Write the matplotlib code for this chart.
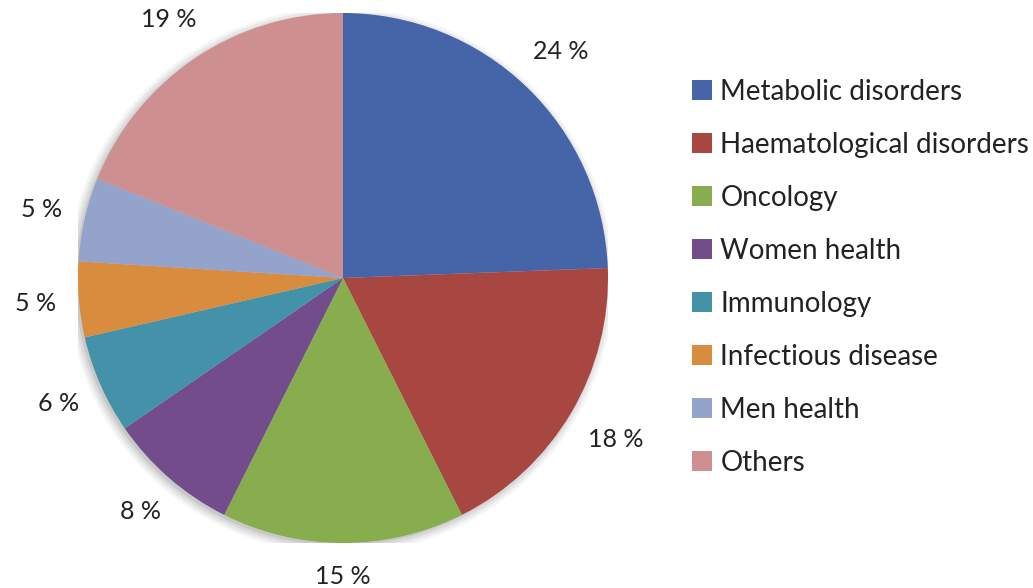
import numpy as np
import matplotlib.pyplot as plt
from matplotlib.patches import Circle

categories = ['Metabolic disorders', 'Haematological disorders', 'Oncology',
              'Women health', 'Immunology', 'Infectious disease',
              'Men health', 'Others']
shares = [24.4, 18.2, 14.8, 8.0, 6.0, 4.6, 5.1, 18.9]
colors = ['#4665A8', '#A84742', '#88AD4F', '#734C8C',
          '#4392AA', '#D98B3E', '#93A3CC', '#CD8F8F']

plt.rcParams['font.family'] = ['Lato', 'DejaVu Sans']

W, H = 1033, 588
fig = plt.figure(figsize=(W / 100, H / 100), dpi=100)

# pie centre and radius in pixels
cx, cy, r = 343, 278, 265
ax = fig.add_axes([(cx - r) / W, (H - cy - r) / H, 2 * r / W, 2 * r / H])

# soft shadow to the lower left
for i, a in enumerate([0.04, 0.05, 0.06, 0.08]):
    ax.add_patch(Circle((-0.01, -0.01), 1.0 + 0.01 * (3 - i),
                        color='black', alpha=a, lw=0, zorder=0))

wedges, _ = ax.pie(shares, colors=colors, startangle=90, counterclock=False,
                   wedgeprops=dict(linewidth=0))
for w in wedges:
    w.set_zorder(2)
    w.set_clip_on(False)
ax.set_xlim(-1, 1)
ax.set_ylim(-1, 1)
ax.set_aspect('equal')
ax.axis('off')

# outside-end labels, box pushed out from the rim by its own half size
renderer = fig.canvas.get_renderer()
gap = 22 / r
for w, v in zip(wedges, shares):
    mid = np.deg2rad((w.theta1 + w.theta2) / 2)
    t = ax.text(0, 0, f'{v:.0f} %', fontsize=18, color='#222222',
                ha='center', va='center')
    bb = t.get_window_extent(renderer)
    hw, hh = bb.width / 2 / r, bb.height / 2 / r
    d = 1 + gap + abs(np.cos(mid)) * hw + abs(np.sin(mid)) * hh
    t.set_position((d * np.cos(mid), d * np.sin(mid)))

fig.legend(wedges, categories, loc='upper left',
           bbox_to_anchor=(692 / W, 1 - 79 / H), frameon=False,
           borderpad=0, borderaxespad=0,
           fontsize=20, handlelength=0.72, handleheight=0.72,
           handletextpad=0.3, labelspacing=0.97, labelcolor='#222222')

fig.savefig('out.png', dpi=100)
